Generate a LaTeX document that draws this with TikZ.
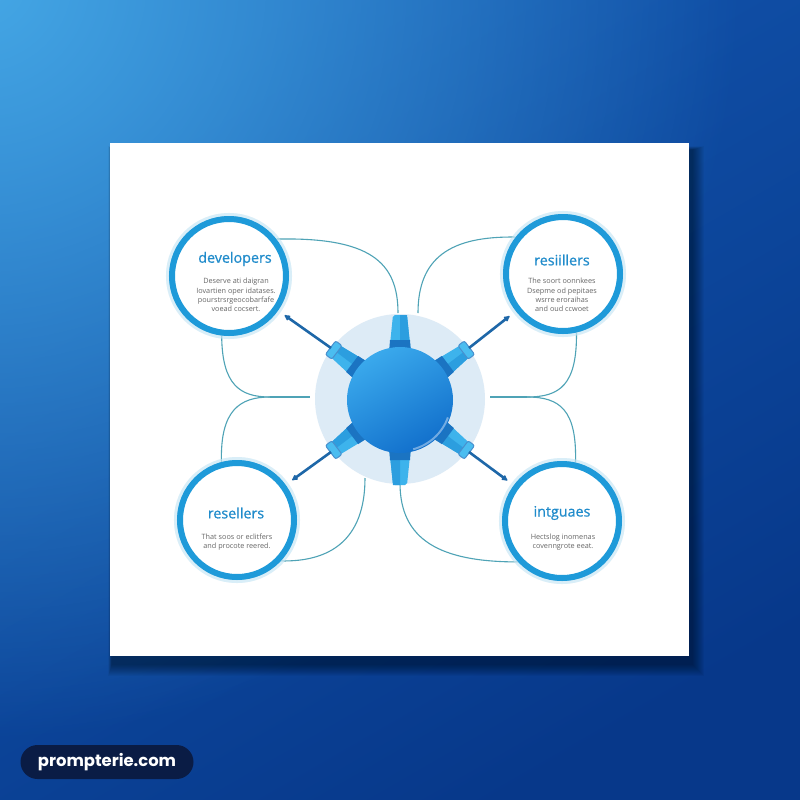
\documentclass[tikz,border=0pt]{standalone}
\usepackage{fontspec}
\setmainfont{Open Sans}
\newfontfamily\wmfont{Poppins}
\newfontfamily\ttlfont{Open Sans}[FakeBold=0.7]
\usetikzlibrary{arrows.meta,fadings}
\tikzfading[name=glowfade, inner color=transparent!0, outer color=transparent!100]
\newlength\pxu \setlength\pxu{0.03cm}
\definecolor{bgA}{HTML}{45A8E6}
\definecolor{bgTR}{HTML}{1255AE}
\definecolor{bgC}{HTML}{07388A}
\definecolor{ringc}{HTML}{1E9AD9}
\definecolor{titlec}{HTML}{1F8BCB}
\definecolor{descc}{HTML}{666666}
\definecolor{curvec}{HTML}{4FA3B6}
\definecolor{arrowc}{HTML}{1E67A8}
\definecolor{haloc}{HTML}{DDEBF6}
\definecolor{spikec}{HTML}{3DB3EC}
\definecolor{spiked}{HTML}{2C9EDF}
\definecolor{spikebase}{HTML}{1B74C2}
\definecolor{capc}{HTML}{4BBDF0}
\definecolor{coreA}{HTML}{3AA9EC}
\definecolor{coreB}{HTML}{1270CC}
\definecolor{wmc}{HTML}{0A1C45}
\tikzset{
  bubble/.style={circle, draw=ringc, line width=6\pxu, fill=white, minimum size=114\pxu, inner sep=0pt,
    preaction={draw=ringc!20, line width=12\pxu, draw opacity=.6}},
  ttl/.style={text=titlec, inner sep=0pt, font=\ttlfont\fontsize{12.2}{14}\selectfont},
  dsc/.style={text=descc, inner sep=0pt, align=center, font=\fontsize{6.2}{7.9}\selectfont},
  curve/.style={draw=curvec, line width=1.1\pxu},
  arrowline/.style={draw=arrowc, line width=0.78mm, -{Latex[length=2.1mm, width=2.1mm, round]}, shorten >=2.4mm},
}
\begin{document}
\begin{tikzpicture}[x=0.03cm, y=-0.03cm]
\useasboundingbox (0,0) rectangle (800,800);
% background
\begin{scope}
  \clip (0,0) rectangle (800,800);
  \shade[top color=bgTR, bottom color=bgC, shading angle=30] (0,0) rectangle (800,800);
  \fill[bgA, path fading=glowfade] (-20,-20) circle (760);
\end{scope}
% card shadow
\foreach \i in {1,...,12}
  \fill[black, opacity=0.04] (112-0.3*\i,150-0.3*\i) rectangle (692+\i,664+\i);
\fill[white] (110,143) rectangle (689,656);

% coordinates at the halo
\coordinate (hTL) at (398,313);
\coordinate (hTR) at (418,313);
\coordinate (jL) at (270,397);
\coordinate (hL) at (310,397);
\coordinate (jR) at (527,397);
\coordinate (hR) at (490,397);
\coordinate (hBL) at (365,478);
\coordinate (hBR) at (400,483);

% outer circles (placed first so connectors can reference them)
\node[bubble] (dev)  at (229,276) {};
\node[bubble] (res1) at (563,274) {};
\node[bubble] (res2) at (237,520) {};
\node[bubble] (intg) at (562,521) {};

% thin connectors
\draw[curve] (dev.38) .. controls (370,237) and (398,262) .. (hTL);
\draw[curve] (res1.142) .. controls (450,236) and (418,258) .. (hTR);
\draw[curve] (dev.263) .. controls (222,385) and (240,397) .. (jL);
\draw[curve] (res2.105) .. controls (220,410) and (240,397) .. (jL);
\draw[curve] (jL) -- (hL);
\draw[curve] (res1.283) .. controls (577,385) and (560,397) .. (jR);
\draw[curve] (intg.77) .. controls (577,410) and (560,397) .. (jR);
\draw[curve] (hR) -- (jR);
\draw[curve] (hBL) .. controls (365,540) and (330,562) .. (res2.317);
\draw[curve] (hBR) .. controls (400,540) and (440,562) .. (intg.223);

% redraw bubbles on top of connector ends
\node[bubble] at (dev) {};
\node[bubble] at (res1) {};
\node[bubble] at (res2) {};
\node[bubble] at (intg) {};

% halo
\node[circle, fill=haloc, minimum size=170\pxu, inner sep=0pt] (halo) at (400,399) {};

% spikes
\foreach \a/\c in {90/0,270/0,37/1,143/1,217/1,323/1}{
  \begin{scope}[shift={(400,400)}, rotate=\a]
    \fill[spikec, rounded corners=2\pxu] (46,-11) -- (85,-7) -- (85,7) -- (46,11) -- cycle;
    \fill[spiked] (46,0) -- (85,0) -- (85,7) -- (46,11) -- cycle;
    \fill[spikebase] (46,-11) -- (60,-10) -- (60,10) -- (46,11) -- cycle;
    \ifnum\c=1
      \filldraw[fill=capc, draw=spikebase!80, line width=1\pxu, rounded corners=2\pxu] (79,-8.5) rectangle (87,8.5);
    \fi
  \end{scope}
}
% core sphere
\node[circle, minimum size=106\pxu, inner sep=0pt, top color=coreA, bottom color=coreB, shading angle=30] (core) at (400,400) {};
\begin{scope}[shift={(400,400)}, yscale=-1]
  \draw[white, opacity=.4, line width=2\pxu] (-75:51) arc[start angle=-75, end angle=-20, radius=51];
\end{scope}

% spike tip coordinates and arrows
\coordinate (sUL) at (331,348);
\coordinate (sUR) at (469,348);
\coordinate (sLL) at (331,452);
\coordinate (sLR) at (469,452);
\draw[arrowline] (sUL) -- (dev);
\draw[arrowline] (sUR) -- (res1);
\draw[arrowline] (sLL) -- (res2);
\draw[arrowline] (sLR) -- (intg);

% texts
\node[ttl] (devT) at (235,259) {developers};
\node[dsc] (devD) at (236,295) {Deserve ati daigran\\Iovartien oper idatases.\\pourstrsrgeocobarfafe\\voead cocsert.};
\node[ttl] (res1T) at (562,260) {resiillers};
\node[dsc] (res1D) at (562,295) {The soort oonnkees\\Dsepme od pepitaes\\wsrre eroraihas\\and oud ccwoet};
\node[ttl] (res2T) at (236,513) {resellers};
\node[dsc] (res2D) at (237,542) {That soos or eclitfers\\and procote reered.};
\node[ttl] (intgT) at (562,513) {intguaes};
\node[dsc] (intgD) at (563,542) {Hectslog inomenas\\covenngrote eeat.};

% watermark
\node[fill=wmc, text=white, rounded corners=17\pxu, minimum width=173\pxu, minimum height=34\pxu, inner sep=0pt,
  font=\wmfont\bfseries\fontsize{14}{16}\selectfont] (wm) at (107,762) {prompterie.com};
\end{tikzpicture}
\end{document}
